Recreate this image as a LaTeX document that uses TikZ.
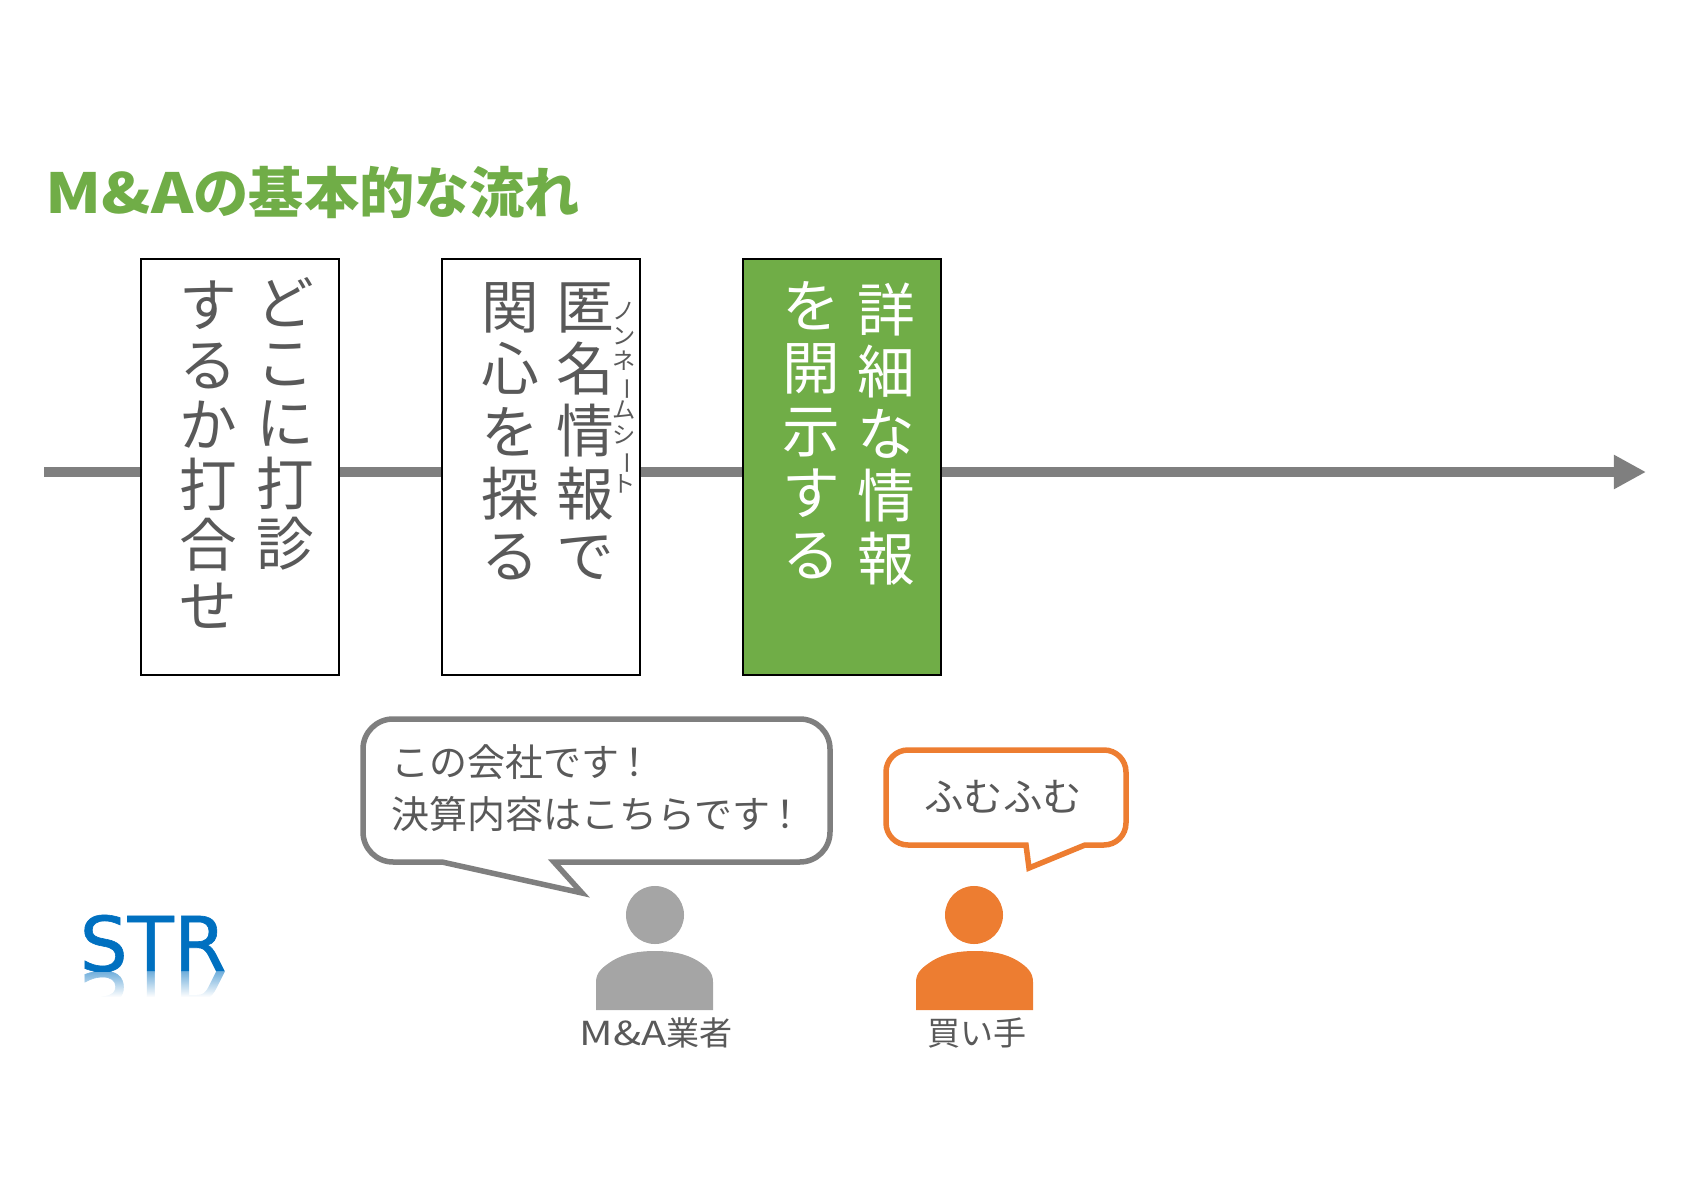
\documentclass[tikz,border=0pt]{standalone}
\usepackage{fontspec}
\setmainfont{Noto Sans CJK JP}
\newfontfamily\logofont[FakeBold=0.8]{DejaVu Sans}
\usepackage{xcolor}
\usetikzlibrary{
	arrows.meta,
	positioning,
	fadings
}
\definecolor{flowgreen}{HTML}{70AD47}
\definecolor{textgray}{HTML}{595959}
\definecolor{linegray}{HTML}{7F7F7F}
\definecolor{persongray}{HTML}{A5A5A5}
\definecolor{buyerorange}{HTML}{ED7D31}
\definecolor{logoblue}{HTML}{0070C0}
\tikzfading[name=logofade, top color=transparent!55, bottom color=transparent!0]
\tikzset{
	flowbox/.style={draw=black, line width=0.02cm, fill=white, minimum width=1.97cm, minimum height=4.16cm, inner sep=0pt},
	tatetext/.style={anchor=north, align=center, inner sep=0pt, text=textgray, font=\fontsize{16.4}{17.1}\selectfont},
	tatewide/.style={tatetext, font=\fontsize{16.4}{17.7}\selectfont},
	rubytext/.style={anchor=north, align=center, inner sep=0pt, text=textgray, font=\fontsize{6.6}{7}\selectfont},
	speech/.style={anchor=west, align=left, inner sep=0pt, text=textgray, font=\fontsize{10.8}{14.8}\selectfont},
	personlabel/.style={inner sep=0pt, text=textgray, font=\fontsize{9.4}{11}\selectfont},
	logotext/.style={anchor=base west, inner sep=0pt, text=logoblue, font=\logofont\fontsize{21.5}{24}\selectfont}
}
\newcommand{\tatebar}{\rotatebox[origin=c]{-90}{ー}}

\begin{document}
\begin{tikzpicture}[x=0.01cm,y=-0.01cm]
	\useasboundingbox (0,0) rectangle (1684,1191);
	
	% Title
	\node[anchor=west, inner sep=0pt, text=flowgreen, font=\fontsize{15.7}{17}\selectfont\bfseries] (title) at (45,193) {\scalebox{1.16}[1]{M\&A}の基本的な流れ};
	
	% Time line
	\coordinate (flowstart) at (44,472);
	\coordinate (flowend) at (1646,472);
	\draw[line width=0.1cm, linegray, -{Triangle[length=0.32cm,width=0.32cm]}] (flowstart) -- (flowend);
	
	% Steps
	\node[flowbox] (meeting) at (240,467) {};
	\node[flowbox] (noname) at (541,467) {};
	\node[flowbox, fill=flowgreen] (detail) at (842,467) {};
	
	\node[tatetext] (meetinga) at (285,277) {ど\\こ\\に\\打\\診};
	\node[tatetext] (meetingb) at (208,280) {す\\る\\か\\打\\合\\せ};
	\node[tatewide] (nonamea) at (585,282) {匿\\名\\情\\報\\で};
	\node[tatewide] (nonameb) at (510,282) {関\\心\\を\\探\\る};
	\node[rubytext] (ruby) at (624,302) {ノ\\ン\\ネ\\\tatebar\\ム\\シ\\\tatebar\\ト};
	\node[tatewide, text=white] (detaila) at (886,282) {詳\\細\\な\\情\\報};
	\node[tatewide, text=white] (detailb) at (811,281) {を\\開\\示\\す\\る};
	
	% Speech bubble of the agent
	\draw[line width=0.055cm, linegray, fill=white, rounded corners=0.3cm]
	(363,790) -- (363,719) -- (830,719) -- (830,862)
	[sharp corners] -- (554,862) -- (582,893) -- (442,862)
	[rounded corners=0.3cm] -- (363,862) -- cycle;
	\node[speech] (agentsays) at (391,788) {この会社です\kern-0.1em！\\決算内容はこちらです\kern-0.1em！};
	
	% Speech bubble of the buyer
	\draw[line width=0.055cm, buyerorange, fill=white, rounded corners=0.22cm]
	(886,800) -- (886,750) -- (1126,750) -- (1126,845)
	[sharp corners] -- (1085,845) -- (1029,868) -- (1026,845)
	[rounded corners=0.22cm] -- (886,845) -- cycle;
	\node[speech, anchor=center, font=\fontsize{11.2}{14.8}\selectfont] (buyersays) at (1003,797) {ふむふむ};
	
	% Agent
	\fill[persongray] (655,915) circle (0.29cm);
	\fill[persongray] (596,1010) -- (596,982)
	.. controls (596,972) and (603,967) .. (612,961)
	.. controls (625,953) and (640,951) .. (655,951)
	.. controls (670,951) and (685,953) .. (698,961)
	.. controls (707,967) and (713,972) .. (713,982)
	-- (713,1010) -- cycle;
	\node[personlabel] (agent) at (656,1033) {\scalebox{1.25}[1]{M\&A}業者};
	
	% Buyer
	\fill[buyerorange] (974,915) circle (0.29cm);
	\fill[buyerorange] (916,1010) -- (916,982)
	.. controls (916,972) and (923,967) .. (932,961)
	.. controls (945,953) and (960,951) .. (975,951)
	.. controls (990,951) and (1005,953) .. (1018,961)
	.. controls (1027,967) and (1033,972) .. (1033,982)
	-- (1033,1010) -- cycle;
	\node[personlabel] (buyer) at (977,1033) {買い手};
	
	% Logo with its reflection
	\node[logotext] (logo) at (79,971) {STR};
	\node[logotext, yscale=-1, transform shape] (logomirror) at (79,972) {STR};
	\fill[white, path fading=logofade] (70,972) rectangle (240,997);
	\fill[white] (70,997) rectangle (240,1030);
	
\end{tikzpicture}
\end{document}
